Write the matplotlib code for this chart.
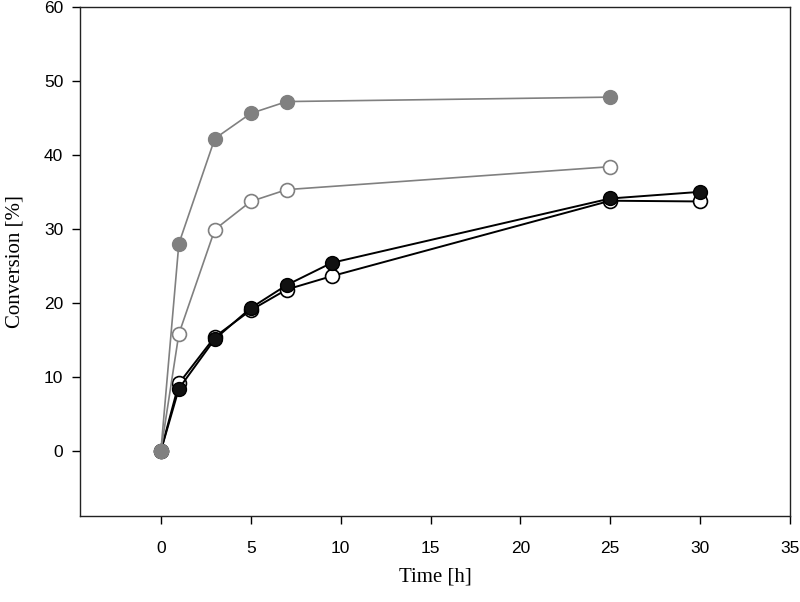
import matplotlib
matplotlib.use("Agg")
import matplotlib.pyplot as plt

# data
t_gray = [0, 1, 3, 5, 7, 25]
gray_filled = [0, 28.0, 42.2, 45.6, 47.2, 47.8]
gray_open = [0, 15.8, 29.9, 33.7, 35.3, 38.4]

t_black = [0, 1, 3, 5, 7, 9.5, 25, 30]
black_filled = [0, 8.4, 15.1, 19.3, 22.4, 25.4, 34.1, 35.0]
black_open = [0, 9.1, 15.4, 19.0, 21.8, 23.6, 33.8, 33.7]

xticks = [0, 5, 10, 15, 20, 25, 30, 35]
yticks = [0, 10, 20, 30, 40, 50, 60]

gray = "#808080"
ms = 10

fig = plt.figure(figsize=(8, 6.02), dpi=100)
ax = fig.add_axes([0.1, 0.143, 0.8875, 0.8456])

ax.plot(t_black, black_open, "-o", color="black", lw=1.4, ms=ms,
        mfc="white", mec="black", mew=1.2, zorder=2)
ax.plot(t_black, black_filled, "-o", color="black", lw=1.4, ms=ms,
        mfc="#111111", mec="black", mew=1.0, zorder=3)
ax.plot(t_gray, gray_open, "-o", color=gray, lw=1.2, ms=ms,
        mfc="white", mec=gray, mew=1.2, zorder=4)
ax.plot(t_gray, gray_filled, "-o", color=gray, lw=1.2, ms=ms,
        mfc=gray, mec=gray, mew=1.0, zorder=5)

ax.set_xlim(-4.5, 35)
ax.set_ylim(-8.8, 60)
ax.set_xticks(xticks)
ax.set_yticks(yticks)
ax.tick_params(direction="out", length=6, width=1, labelsize=12.5, pad=12)
ax.tick_params(axis="y", pad=6)
for lab in ax.get_xticklabels() + ax.get_yticklabels():
    lab.set_family("Liberation Sans")
for s in ax.spines.values():
    s.set_linewidth(1.0)
    s.set_color("#222222")

ax.set_xlabel("Time [h]", family="Liberation Serif", fontsize=15, labelpad=8)
ax.set_ylabel("Conversion [%]", family="Liberation Serif", fontsize=15, labelpad=14)

fig.savefig("out.png", dpi=100)
